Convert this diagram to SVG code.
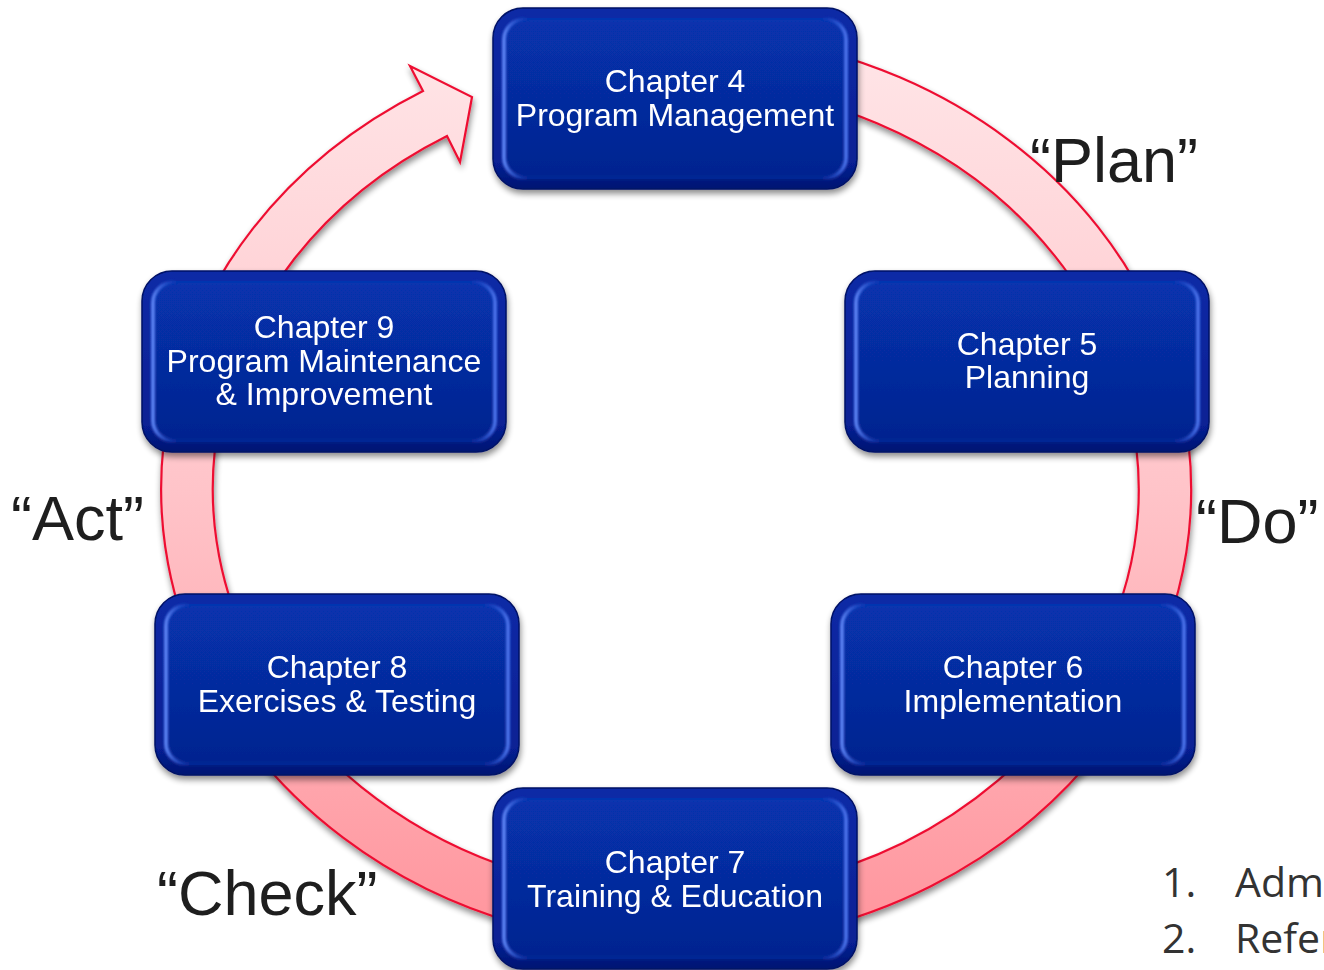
<svg xmlns="http://www.w3.org/2000/svg" width="1324" height="970" viewBox="0 0 1324 970">
<defs>
<linearGradient id="ringG" x1="0" y1="0" x2="0" y2="1" gradientUnits="objectBoundingBox">
<stop offset="0" stop-color="#ffe6e8"/>
<stop offset="0.5" stop-color="#ffc4c9"/>
<stop offset="1" stop-color="#ff949c"/>
</linearGradient>
<linearGradient id="boxG" x1="0" y1="0" x2="0" y2="1">
<stop offset="0" stop-color="#0a2aa6"/>
<stop offset="0.85" stop-color="#072094"/>
<stop offset="1" stop-color="#031572"/>
</linearGradient>
<linearGradient id="innerG" x1="0" y1="0" x2="0" y2="1">
<stop offset="0" stop-color="#0733ae"/>
<stop offset="1" stop-color="#05238f"/>
</linearGradient>
<linearGradient id="rimG" x1="0" y1="0" x2="1" y2="0">
<stop offset="0" stop-color="#5a80f0"/>
<stop offset="0.07" stop-color="#1d46c8" stop-opacity="0.1"/>
<stop offset="0.93" stop-color="#1d46c8" stop-opacity="0.1"/>
<stop offset="1" stop-color="#4a70e8"/>
</linearGradient>
<filter id="shadow" x="-10%" y="-10%" width="120%" height="130%">
<feGaussianBlur in="SourceAlpha" stdDeviation="3"/>
<feOffset dx="1" dy="4" result="b"/>
<feComponentTransfer><feFuncA type="linear" slope="0.45"/></feComponentTransfer>
<feMerge><feMergeNode/><feMergeNode in="SourceGraphic"/></feMerge>
</filter>
<filter id="soft" x="-5%" y="-5%" width="110%" height="110%">
<feGaussianBlur stdDeviation="1.2"/>
</filter>
<g id="box">
<rect x="0" y="0" width="364" height="181" rx="30" fill="url(#boxG)" stroke="#021266" stroke-width="1.5"/>
<rect x="10" y="10" width="344" height="161" rx="22" fill="url(#innerG)"/>
<rect x="11" y="11" width="342" height="159" rx="21" fill="none" stroke="url(#rimG)" stroke-width="4" filter="url(#soft)"/>
</g>
</defs>
<style>
.nt{font-family:"Liberation Sans",Arial,sans-serif;font-size:32px;fill:#ffffff;text-anchor:middle}
.lab{font-family:"Liberation Sans",Arial,sans-serif;font-size:63px;fill:#1e1e1e}
.ref{font-family:"Open Sans","Liberation Sans",sans-serif;font-size:41px;fill:#333333}
</style>

<g id="connectors">
<path id="ring" d="M 675 32 A 515 457 0 1 1 423 91 L 410 66 L 472 97 L 460 162 L 447 136 A 463 406 0 1 0 675 83 Z" fill="url(#ringG)" stroke="#ee1133" stroke-width="2.2" stroke-linejoin="miter" filter="url(#shadow)"/>
</g>

<g id="node-ch4" filter="url(#shadow)">
<use href="#box" x="493" y="8"/>
<text class="nt" x="675" y="92">Chapter 4</text>
<text class="nt" x="675" y="126">Program Management</text>
</g>
<g id="node-ch5" filter="url(#shadow)">
<use href="#box" x="845" y="271"/>
<text class="nt" x="1027" y="355">Chapter 5</text>
<text class="nt" x="1027" y="388">Planning</text>
</g>
<g id="node-ch9" filter="url(#shadow)">
<use href="#box" x="142" y="271"/>
<text class="nt" x="324" y="338">Chapter 9</text>
<text class="nt" x="324" y="372">Program Maintenance</text>
<text class="nt" x="324" y="405">&amp; Improvement</text>
</g>
<g id="node-ch8" filter="url(#shadow)">
<use href="#box" x="155" y="594"/>
<text class="nt" x="337" y="678">Chapter 8</text>
<text class="nt" x="337" y="712">Exercises &amp; Testing</text>
</g>
<g id="node-ch6" filter="url(#shadow)">
<use href="#box" x="831" y="594"/>
<text class="nt" x="1013" y="678">Chapter 6</text>
<text class="nt" x="1013" y="712">Implementation</text>
</g>
<g id="node-ch7" filter="url(#shadow)">
<use href="#box" x="493" y="788"/>
<text class="nt" x="675" y="873">Chapter 7</text>
<text class="nt" x="675" y="907">Training &amp; Education</text>
</g>

<g id="labels">
<text class="lab" x="1030" y="182">“Plan”</text>
<text class="lab" x="1196" y="543">“Do”</text>
<text class="lab" x="157" y="915">“Check”</text>
<text class="lab" x="11" y="540">“Act”</text>
</g>
<g id="refs">
<text class="ref" x="1162" y="897">1.</text>
<text class="ref" x="1235" y="897">Adm</text>
<text class="ref" x="1162" y="953">2.</text>
<text class="ref" x="1235" y="953">Refer</text>
</g>
</svg>
